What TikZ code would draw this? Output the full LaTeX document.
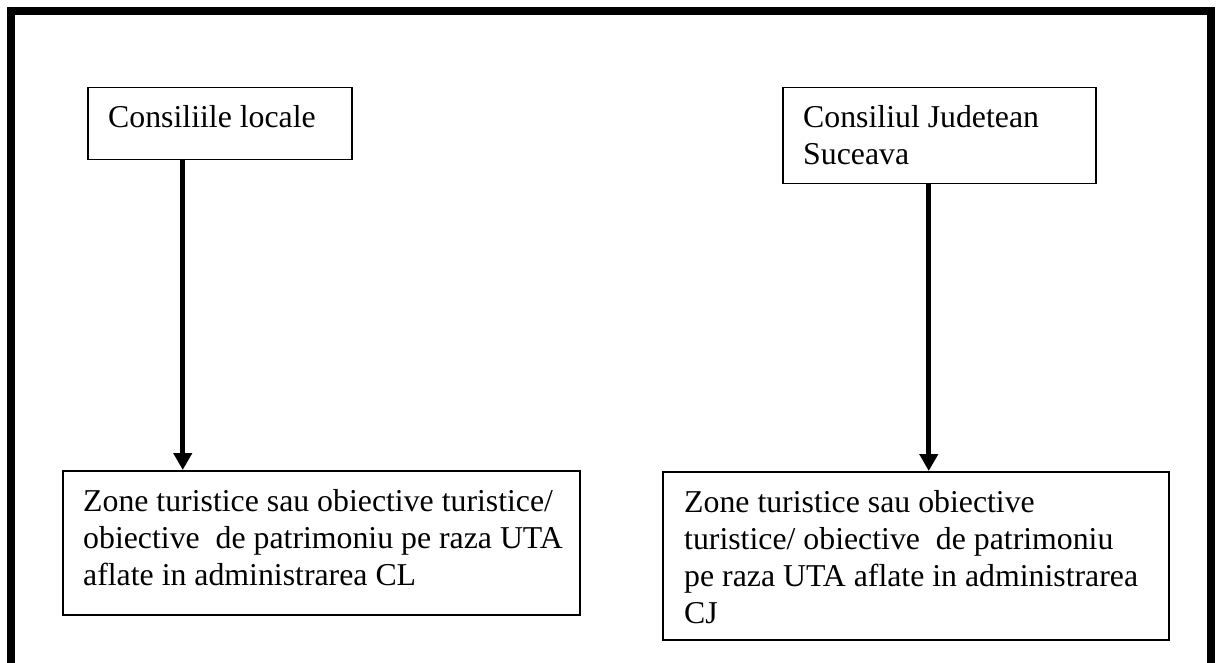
\documentclass[tikz,border=0pt]{standalone}
\usepackage{fontspec}
\setmainfont{Liberation Serif}
\usetikzlibrary{arrows.meta}
\tikzset{
  boxnode/.style={draw, line width=1.5pt, anchor=north west, inner sep=0pt, fill=white},
  labeltext/.style={anchor=base west, inner sep=0pt, font=\fontsize{31.8}{37}\selectfont},
  arr/.style={line width=5pt, -{Triangle[length=17pt,width=18pt]}},
  frame/.style={line width=8pt, line join=miter}
}
\begin{document}
\begin{tikzpicture}[x=1pt,y=-1pt]
\useasboundingbox (0,0) rectangle (1219,663);
\fill[white] (0,0) rectangle (1219,663);
\draw[frame] (11,680) -- (11,11) -- (1211,11) -- (1211,680);
% boxes
\node[boxnode, minimum width=264pt, minimum height=72pt] (b1) at (87,87) {};
\node[boxnode, minimum width=313pt, minimum height=96pt] (b2) at (782,87) {};
\node[boxnode, minimum width=517pt, minimum height=144pt] (b3) at (62,470) {};
\node[boxnode, minimum width=506pt, minimum height=168pt] (b4) at (662,471) {};
% texts
\node[labeltext] (t1) at (108,128) {\parbox[t]{240pt}{Consiliile locale}};
\node[labeltext] (t2) at (803,128) {\parbox[t]{290pt}{\baselineskip=37pt Consiliul Judetean\\Suceava}};
\node[labeltext] (t3) at (83,511) {\parbox[t]{495pt}{\baselineskip=37pt Zone turistice sau obiective turistice/\\obiective\ \ de patrimoniu pe raza UTA\\aflate in administrarea CL}};
\node[labeltext] (t4) at (684,512) {\parbox[t]{480pt}{\baselineskip=37pt Zone turistice sau obiective\\turistice/ obiective\ \ de patrimoniu\\pe raza UTA aflate in administrarea\\CJ}};
% arrows
\draw[arr] ([xshift=-37pt]b1.south) -- ([xshift=-138.5pt]b3.north);
\draw[arr] ([xshift=-10.5pt]b2.south) -- ([xshift=13pt]b4.north);
\end{tikzpicture}
\end{document}
